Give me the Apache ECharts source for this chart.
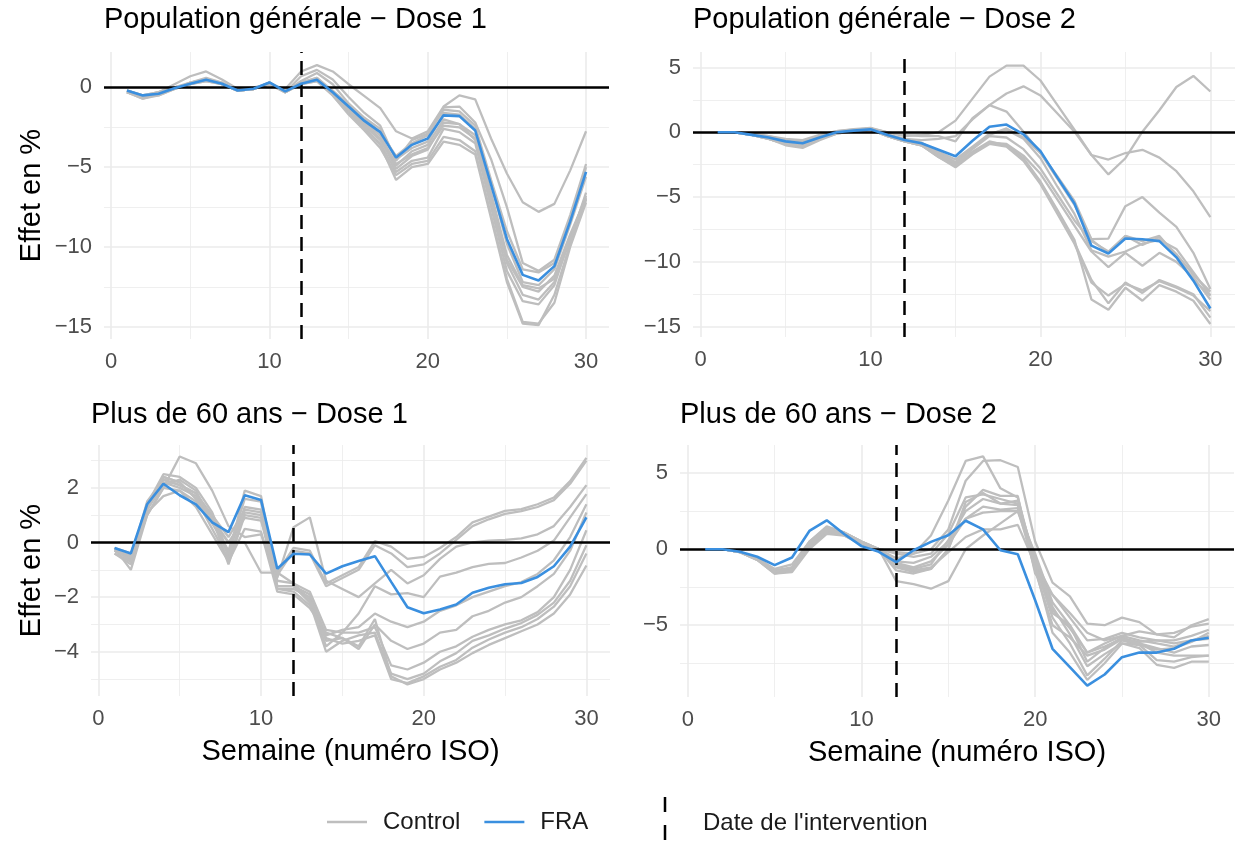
<!DOCTYPE html>
<html>
<head>
<meta charset="utf-8">
<script src="https://cdn.jsdelivr.net/npm/echarts@6/dist/echarts.min.js"></script>
<style>
  html, body { margin: 0; background: #fff; }
  #main { width: 1238px; height: 843px; }
</style>
</head>
<body>
<div id="main"></div>
<script>
// semaines ISO 1..30
var weeks = [1, 2, 3, 4, 5, 6, 7, 8, 9, 10, 11, 12, 13, 14, 15, 16, 17, 18, 19, 20, 21, 22, 23, 24, 25, 26, 27, 28, 29, 30];
var interventionWeek = 12;
var xTicks = [0, 10, 20, 30];
var xMinorTicks = [5, 15, 25];
var titles = ['Population générale \u2212 Dose 1', 'Population générale \u2212 Dose 2',
              'Plus de 60 ans \u2212 Dose 1', 'Plus de 60 ans \u2212 Dose 2'];

// Population générale - Dose 1
var p1Fra = [-0.2, -0.5, -0.4, -0.05, 0.23, 0.48, 0.23, -0.19, -0.08, 0.31,
             -0.25, 0.23, 0.48, -0.3, -1.2, -2.1, -2.8, -4.4, -3.6, -3.2,
             -1.75, -1.8, -2.7, -6.1, -9.5, -11.75, -12.1, -11.2, -8.4, -5.3];
var p1Control = [
  [-0.3, -0.6, -0.3, 0.2, 0.7, 1.0, 0.5, -0.1, 0.0, 0.2, -0.1, 1.0, 1.4, 1.0, 0.2, -0.55, -1.3, -2.75, -3.2, -2.75, -1.2, -0.5, -0.75, -3.2, -5.4, -7.2, -7.8, -7.3, -5.2, -2.75],
  [-0.3, -0.7, -0.5, -0.1, 0.3, 0.6, 0.3, -0.2, -0.1, 0.2, -0.3, 0.7, 1.1, 0.5, -0.6, -1.6, -2.4, -4.6, -3.3, -2.9, -1.25, -1.2, -2.2, -4.5, -7.5, -11.0, -11.5, -10.8, -8.0, -4.8],
  [-0.2, -0.6, -0.4, -0.1, 0.2, 0.5, 0.2, -0.2, -0.1, 0.3, -0.3, 0.4, 0.9, 0.2, -1.0, -1.9, -2.6, -4.5, -3.8, -3.4, -1.6, -1.7, -2.6, -6.0, -9.8, -12.2, -12.4, -11.4, -8.6, -5.6],
  [-0.3, -0.6, -0.4, 0.0, 0.2, 0.5, 0.2, -0.2, -0.1, 0.3, -0.2, 0.3, 0.5, -0.4, -1.4, -2.3, -3.2, -5.1, -4.3, -3.9, -2.2, -2.3, -3.0, -6.6, -10.5, -12.4, -12.6, -12.0, -9.6, -6.6],
  [-0.2, -0.5, -0.3, 0.0, 0.2, 0.4, 0.2, -0.1, -0.1, 0.2, -0.3, 0.2, 0.4, -0.5, -1.6, -2.6, -3.5, -5.3, -4.6, -4.4, -2.6, -2.8, -3.5, -7.5, -11.5, -13.4, -13.6, -12.4, -9.4, -6.8],
  [-0.3, -0.7, -0.4, -0.1, 0.3, 0.5, 0.3, -0.2, -0.1, 0.3, -0.3, 0.3, 0.6, -0.3, -1.3, -2.4, -3.3, -4.9, -4.0, -3.6, -2.0, -2.3, -3.3, -7.0, -10.8, -12.5, -12.8, -11.8, -9.2, -6.9],
  [-0.2, -0.5, -0.4, 0.0, 0.3, 0.5, 0.2, -0.2, -0.1, 0.2, -0.2, 0.3, 0.5, -0.4, -1.5, -2.5, -3.6, -5.8, -5.0, -4.8, -3.4, -3.6, -4.2, -8.2, -12.2, -14.8, -14.9, -13.0, -9.8, -7.0],
  [-0.3, -0.6, -0.5, -0.1, 0.2, 0.4, 0.2, -0.2, -0.1, 0.2, -0.3, 0.2, 0.4, -0.5, -1.7, -2.7, -3.8, -5.5, -4.8, -4.6, -3.1, -3.3, -4.0, -8.0, -12.0, -14.7, -14.8, -13.5, -10.0, -7.2],
  [-0.2, -0.5, -0.3, 0.0, 0.2, 0.5, 0.2, -0.2, -0.1, 0.2, -0.3, 0.3, 0.5, -0.3, -1.4, -2.2, -3.0, -4.8, -4.2, -3.8, -2.4, -2.5, -3.2, -7.2, -11.0, -13.0, -13.3, -12.2, -9.5, -7.0],
  [-0.3, -0.6, -0.4, -0.1, 0.2, 0.5, 0.2, -0.2, -0.1, 0.3, -0.3, 0.3, 0.6, -0.2, -1.1, -2.0, -2.8, -4.3, -3.5, -3.0, -1.4, -1.5, -2.4, -5.8, -9.0, -11.4, -11.6, -11.0, -8.2, -5.0]
];

// Population générale - Dose 2
var p2Fra = [0, 0, -0.2, -0.4, -0.7, -0.85, -0.4, 0, 0.13, 0.23,
             -0.2, -0.6, -0.85, -1.35, -1.85, -0.65, 0.43, 0.6, -0.15, -1.45,
             -3.5, -5.5, -8.75, -9.35, -8.2, -8.25, -8.4, -9.65, -11.45, -13.6];
var p2Control = [
  [0, 0, -0.1, -0.3, -0.6, -0.7, -0.3, 0.1, 0.25, 0.35, 0.0, -0.3, -0.2, 0.0, 0.9, 2.6, 4.3, 5.15, 5.15, 4.0, 2.1, 0.2, -1.75, -2.1, -1.6, -1.35, -1.95, -3.0, -4.55, -6.55],
  [0, 0, -0.1, -0.3, -0.5, -0.6, -0.2, 0.1, 0.2, 0.3, 0.0, -0.2, -0.3, -0.3, -0.7, 1.1, 2.1, 3.0, 3.55, 2.85, 1.45, 0.05, -1.75, -3.25, -2.0, 0.05, 1.7, 3.5, 4.35, 3.15],
  [0, 0, -0.2, -0.4, -0.8, -1.0, -0.5, 0, 0.15, 0.3, -0.2, -0.5, -0.6, -0.5, -0.3, 1.0, 2.1, 1.6, 0.05, -1.6, -3.4, -5.3, -8.25, -8.2, -5.7, -5.0, -6.2, -7.3, -9.3, -12.1],
  [0, 0, -0.2, -0.4, -0.8, -0.9, -0.4, 0, 0.1, 0.25, -0.2, -0.6, -0.9, -1.6, -2.3, -1.2, -0.2, 0.3, -0.4, -1.6, -3.6, -5.6, -8.3, -9.3, -8.0, -8.4, -8.0, -9.5, -11.4, -12.6],
  [0, 0, -0.2, -0.5, -0.9, -1.1, -0.5, -0.1, 0.1, 0.2, -0.3, -0.7, -1.0, -1.8, -2.5, -1.6, -0.8, -0.9, -1.8, -3.2, -5.2, -7.2, -9.2, -10.4, -9.3, -10.3, -9.3, -10.0, -11.2, -12.9],
  [0, 0, -0.2, -0.5, -1.0, -1.2, -0.6, -0.1, 0.1, 0.2, -0.3, -0.7, -1.0, -1.9, -2.7, -1.7, -0.9, -1.1, -2.2, -4.0, -6.3, -8.6, -11.6, -12.6, -11.7, -12.2, -11.5, -12.0, -12.6, -13.8],
  [0, 0, -0.2, -0.5, -0.9, -1.1, -0.5, 0, 0.1, 0.2, -0.3, -0.7, -1.0, -1.8, -2.6, -1.5, -0.7, -1.0, -2.0, -3.8, -6.0, -8.3, -12.9, -13.7, -12.0, -13.0, -11.8, -12.3, -13.0, -14.8],
  [0, 0, -0.2, -0.4, -0.8, -1.0, -0.4, 0, 0.15, 0.25, -0.2, -0.6, -0.9, -1.7, -2.4, -1.3, -0.3, -0.4, -1.3, -2.8, -4.8, -6.8, -8.4, -9.2, -8.0, -8.7, -8.1, -9.4, -11.0, -12.3],
  [0, 0, -0.2, -0.4, -0.7, -0.9, -0.4, 0, 0.15, 0.3, -0.2, -0.5, -0.8, -1.5, -2.1, -1.1, -0.1, 0.2, -0.5, -2.0, -4.2, -6.3, -9.1, -9.6, -9.2, -8.6, -8.3, -9.0, -10.8, -12.6],
  [0, 0, -0.2, -0.5, -0.9, -1.1, -0.5, -0.1, 0.1, 0.2, -0.3, -0.7, -1.0, -1.9, -2.6, -1.6, -0.8, -1.0, -2.1, -3.9, -6.1, -8.5, -11.4, -13.2, -11.6, -12.4, -11.4, -11.9, -12.5, -14.3]
];

// Plus de 60 ans - Dose 1
var p3Fra = [-0.2, -0.4, 1.4, 2.15, 1.73, 1.4, 0.74, 0.38, 1.73, 1.56,
             -0.96, -0.41, -0.44, -1.14, -0.87, -0.68, -0.5, -1.44, -2.37, -2.59,
             -2.45, -2.27, -1.84, -1.66, -1.53, -1.48, -1.26, -0.87, -0.15, 0.92];
var p3Control = [
  [-0.3, -0.5, 1.2, 2.3, 2.1, 1.8, 1.0, 0.2, 1.2, 1.1, -1.1, -0.2, -0.3, -1.5, -1.2, -0.9, 0.05, -0.15, -0.6, -0.53, -0.2, 0.2, 0.74, 0.95, 1.16, 1.22, 1.4, 1.65, 2.25, 3.1],
  [-0.3, -0.6, 1.3, 2.4, 2.2, 1.6, 0.8, 0.0, 0.9, 0.8, -1.2, -0.3, -0.4, -1.6, -1.3, -1.0, -0.1, -0.4, -0.9, -0.8, -0.4, 0.1, 0.6, 0.85, 1.05, 1.15, 1.3, 1.55, 2.15, 3.0],
  [-0.2, -1.0, 1.0, 2.0, 3.15, 2.9, 1.9, 0.6, 0.2, 0.3, -1.3, 0.56, 0.92, -1.4, -1.7, -2.0, -1.5, -1.0, -1.5, -1.2, -0.6, -0.15, 0.0, 0.07, 0.1, 0.15, 0.3, 0.6, 1.3, 2.1],
  [-0.4, -0.7, 1.1, 1.7, 1.9, 1.5, 0.9, 0.0, 0.0, -1.1, -1.1, -1.5, -1.8, -3.2, -3.3, -2.6, -1.6, -1.9, -1.85, -2.0, -1.25, -1.1, -0.9, -0.78, -0.75, -0.55, -0.3, 0.07, 0.92, 1.77],
  [-0.3, -0.5, 1.4, 2.5, 2.4, 2.0, 1.1, -0.4, 1.3, 1.2, -1.6, -1.6, -1.9, -3.4, -3.2, -3.1, -2.6, -2.9, -3.1, -2.9, -2.5, -2.3, -2.0, -1.8, -1.6, -1.45, -1.15, -0.65, 0.2, 1.4],
  [-0.2, -0.4, 1.3, 2.2, 2.0, 1.7, 0.9, -0.8, 1.0, 0.9, -1.7, -1.7, -2.0, -3.6, -3.5, -3.9, -3.0, -3.6, -3.9, -3.7, -3.3, -3.2, -2.7, -2.5, -2.2, -2.0, -1.6, -1.15, -0.3, 1.1],
  [-0.3, -0.6, 1.5, 2.3, 2.1, 1.8, 0.9, -0.5, 1.9, 1.7, -1.4, -1.5, -2.1, -3.8, -3.3, -3.3, -3.1, -4.5, -4.65, -4.4, -4.0, -3.8, -3.45, -3.2, -3.0, -2.85, -2.55, -2.0, -1.0, 0.45],
  [-0.4, -0.8, 1.2, 2.1, 2.3, 1.9, 0.7, -0.3, 1.6, 1.5, -1.6, -1.6, -2.2, -4.0, -3.6, -3.4, -3.3, -4.8, -5.0, -4.8, -4.35, -4.05, -3.6, -3.4, -3.15, -2.95, -2.65, -2.2, -1.4, -0.1],
  [-0.3, -0.5, 1.3, 2.4, 2.2, 1.6, 0.5, -0.6, 1.1, 1.0, -1.7, -1.8, -2.3, -3.5, -3.7, -3.6, -3.4, -5.0, -5.15, -4.9, -4.55, -4.3, -3.85, -3.55, -3.3, -3.1, -2.8, -2.35, -1.6, -0.4],
  [-0.2, -0.7, 1.0, 2.0, 1.9, 1.3, 0.3, -0.7, 0.5, 0.4, -1.8, -1.9, -2.4, -3.3, -3.5, -3.8, -2.8, -4.9, -5.2, -5.0, -4.65, -4.4, -4.05, -3.75, -3.5, -3.25, -3.0, -2.6, -1.9, -0.84]
];

// Plus de 60 ans - Dose 2
var p4Fra = [0, 0, -0.17, -0.5, -1.05, -0.55, 1.2, 1.9, 1.0, 0.2,
             -0.17, -0.85, -0.07, 0.48, 0.92, 1.87, 1.3, -0.07, -0.33, -3.36,
             -6.55, -7.76, -8.97, -8.24, -7.1, -6.8, -6.8, -6.55, -6.0, -5.82];
var p4Control = [
  [0, 0, -0.2, -0.6, -1.4, -1.2, 0.3, 1.3, 1.1, 0.5, 0.0, -0.6, -0.3, 0.9, 3.2, 5.8, 6.1, 4.0, 3.4, -1.0, -4.2, -5.0, -6.8, -6.2, -5.7, -6.0, -6.2, -6.4, -6.0, -5.7],
  [0, 0, -0.2, -0.6, -1.5, -1.3, 0.2, 1.2, 1.0, 0.4, 0.0, -0.2, -0.3, 0.0, 1.3, 4.5, 5.8, 5.85, 5.4, 0.5, -2.2, -3.1, -4.9, -5.0, -4.5, -4.8, -5.6, -5.8, -5.0, -4.6],
  [0, 0, -0.2, -0.6, -1.4, -1.3, 0.5, 1.5, 1.1, 0.5, 0.0, -1.2, -1.5, -1.3, 0.0, 2.8, 3.9, 3.5, 3.5, -1.6, -3.0, -4.2, -5.5, -6.0, -5.7, -5.4, -5.6, -5.5, -5.1, -4.9],
  [0, 0, -0.2, -0.7, -1.6, -1.4, 0.1, 1.1, 1.0, 0.4, 0.0, -1.4, -1.6, -1.3, 0.0, 3.1, 3.7, 3.0, 3.2, -0.8, -4.0, -5.2, -6.8, -6.4, -5.9, -6.1, -6.0, -6.2, -6.0, -5.9],
  [0, 0, -0.2, -0.7, -1.6, -1.5, 0.0, 1.0, 0.9, 0.4, 0.0, -2.1, -2.3, -2.6, -2.1, 0.0, 0.9, 1.7, 2.5, -0.3, -3.5, -5.0, -7.4, -6.5, -5.8, -6.2, -6.8, -7.0, -7.0, -7.0],
  [0, 0, -0.2, -0.6, -1.5, -1.4, 0.2, 1.1, 1.0, 0.4, -0.1, -1.0, -1.3, -1.0, 0.6, 2.5, 3.3, 3.0, 2.9, -0.5, -3.8, -5.6, -7.7, -6.9, -6.2, -6.3, -6.6, -6.5, -6.1, -5.5],
  [0, 0, -0.2, -0.6, -1.4, -1.3, 0.3, 1.3, 1.0, 0.4, 0.0, -0.3, -0.5, -0.3, 1.0, 3.4, 3.6, 3.3, 3.0, -1.2, -5.5, -6.8, -8.6, -7.5, -6.2, -6.5, -7.6, -7.8, -7.4, -7.4],
  [0, 0, -0.2, -0.7, -1.5, -1.4, 0.2, 1.2, 0.9, 0.3, 0.0, -1.1, -1.4, -1.2, -0.2, 0.8, 1.3, 1.3, 1.6, -1.0, -4.5, -6.2, -8.3, -7.2, -6.0, -6.3, -7.3, -7.4, -7.1, -7.0],
  [0, 0, -0.2, -0.6, -1.3, -1.0, 0.5, 1.4, 1.1, 0.5, 0.0, -0.8, -0.9, -0.5, 0.5, 2.0, 2.4, 2.5, 2.5, -0.8, -3.0, -4.5, -6.0, -5.9, -5.5, -5.8, -6.0, -6.0, -5.7, -5.3],
  [0, 0, -0.2, -0.6, -1.5, -1.2, 0.4, 1.3, 1.0, 0.4, 0.0, -0.9, -1.2, -0.8, 0.3, 2.0, 2.8, 2.6, 2.7, -1.4, -5.0, -5.8, -7.0, -6.6, -5.9, -6.2, -6.5, -6.8, -6.4, -6.3]
];

var p1YTicks = [-15, -10, -5, 0], p1YMinor = [-12.5, -7.5, -2.5];
var p2YTicks = [-15, -10, -5, 0, 5], p2YMinor = [-12.5, -7.5, -2.5, 2.5];
var p3YTicks = [-4, -2, 0, 2], p3YMinor = [-5, -3, -1, 1, 3];
var p4YTicks = [-5, 0, 5], p4YMinor = [-7.5, -2.5, 2.5];

var panels = [
  { fra: p1Fra, control: p1Control, yTicks: p1YTicks, yMinor: p1YMinor, yMin: -15.77, yMax: 2.22,
    box: { left: 104, top: 52, width: 505, height: 287 }, yName: true, xName: false },
  { fra: p2Fra, control: p2Control, yTicks: p2YTicks, yMinor: p2YMinor, yMin: -15.8, yMax: 6.2,
    box: { left: 693, top: 52, width: 542, height: 285 }, yName: false, xName: false },
  { fra: p3Fra, control: p3Control, yTicks: p3YTicks, yMinor: p3YMinor, yMin: -5.62, yMax: 3.57,
    box: { left: 91, top: 445, width: 519, height: 251 }, yName: true, xName: true },
  { fra: p4Fra, control: p4Control, yTicks: p4YTicks, yMinor: p4YMinor, yMin: -9.72, yMax: 6.85,
    box: { left: 680, top: 445, width: 554, height: 252 }, yName: false, xName: true }
];

var font = '"Liberation Sans", Arial, sans-serif';
var grey = '#bebebe';
var blue = '#3a8fdf';

function fmt(v) { return String(v).replace('-', '\u2212'); }
function pairs(arr) { return weeks.map(function (w, k) { return [w, arr[k]]; }); }

var grids = [], xAxes = [], yAxes = [], series = [], titleList = [];
var majorLine = { show: true, lineStyle: { color: '#ebebeb', width: 1.6 } };
var minorLine = { show: true, lineStyle: { color: '#ebebeb', width: 0.8 } };
var tickText = { color: '#4d4d4d', fontSize: 22, fontFamily: font, margin: 12, formatter: fmt };
var nameText = { color: '#000', fontSize: 29, fontFamily: font };

panels.forEach(function (p, i) {
  grids.push(p.box);
  titleList.push({
    text: titles[i], left: p.box.left, top: i < 2 ? 5 : 400, padding: 0,
    textStyle: { fontSize: 29, fontWeight: 'normal', color: '#000', fontFamily: font }
  });

  // axe majeur + axe mineur (grilles)
  xAxes.push({
    type: 'value', gridIndex: i, min: -0.45, max: 31.45,
    axisLine: { show: false }, axisTick: { show: false, customValues: xTicks },
    axisLabel: Object.assign({ customValues: xTicks }, tickText),
    splitLine: majorLine,
    name: p.xName ? 'Semaine (numéro ISO)' : '', nameLocation: 'middle', nameGap: 41,
    nameTextStyle: nameText
  });
  xAxes.push({
    type: 'value', gridIndex: i, min: -0.45, max: 31.45, position: 'bottom',
    axisLine: { show: false }, axisTick: { show: false, customValues: xMinorTicks },
    axisLabel: { show: false }, splitLine: minorLine
  });
  yAxes.push({
    type: 'value', gridIndex: i, min: p.yMin, max: p.yMax,
    axisLine: { show: false }, axisTick: { show: false, customValues: p.yTicks },
    axisLabel: Object.assign({ customValues: p.yTicks }, tickText),
    splitLine: majorLine,
    name: p.yName ? 'Effet en %' : '', nameLocation: 'middle', nameRotate: 90,
    nameGap: i === 0 ? 58 : 45, nameTextStyle: nameText
  });
  yAxes.push({
    type: 'value', gridIndex: i, min: p.yMin, max: p.yMax, position: 'left',
    axisLine: { show: false }, axisTick: { show: false, customValues: p.yMinor },
    axisLabel: { show: false }, splitLine: minorLine
  });

  p.control.forEach(function (arr, c) {
    var s = {
      name: 'Control', type: 'line', xAxisIndex: 2 * i, yAxisIndex: 2 * i,
      data: pairs(arr), symbol: 'none', z: 2, silent: true,
      itemStyle: { color: grey }, lineStyle: { color: grey, width: 2.3 }
    };
    if (c === 0) {
      s.markLine = {
        silent: true, symbol: ['none', 'none'], label: { show: false },
        data: [
          { yAxis: 0, lineStyle: { color: '#000', width: 2.5, type: 'solid' } },
          { xAxis: interventionWeek, lineStyle: { color: '#000', width: 2.5, type: [14, 8] } }
        ]
      };
    }
    series.push(s);
  });
  series.push({
    name: 'FRA', type: 'line', xAxisIndex: 2 * i, yAxisIndex: 2 * i,
    data: pairs(p.fra), symbol: 'none', z: 10, silent: true,
    itemStyle: { color: blue }, lineStyle: { color: blue, width: 2.6 }
  });
});

var chart = echarts.init(document.getElementById('main'));
chart.setOption({
  animation: false,
  backgroundColor: '#fff',
  title: titleList,
  grid: grids,
  xAxis: xAxes,
  yAxis: yAxes,
  series: series,
  legend: {
    data: ['Control', 'FRA'], left: 327, top: 810, padding: 0, icon: 'rect',
    itemWidth: 40, itemHeight: 2.5, itemGap: 24, selectedMode: false,
    textStyle: { fontSize: 24, color: '#1a1a1a', fontFamily: font, padding: [0, 0, 0, 11] }
  },
  graphic: [
    { type: 'line', shape: { x1: 665, y1: 797, x2: 665, y2: 845 },
      style: { stroke: '#000', lineWidth: 2.5, lineDash: [15, 13] } },
    { type: 'text', left: 703, top: 811,
      style: { text: "Date de l'intervention", fontSize: 24, fill: '#1a1a1a', fontFamily: font } }
  ]
});
</script>
</body>
</html>
